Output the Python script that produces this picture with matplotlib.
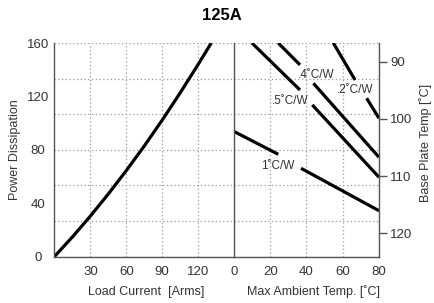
import numpy as np
import matplotlib
matplotlib.use("Agg")
import matplotlib.pyplot as plt

plt.rcParams['font.family'] = ['Liberation Sans', 'DejaVu Sans']

# left panel: power dissipation vs load current
load_current = [0, 15, 30, 45, 60, 75, 90, 105, 120, 131]
power = [0, 14.7, 30.3, 46.9, 64.4, 82.8, 102.2, 122.6, 143.9, 160]

# right panel: derating lines, each drawn as two pieces around its label
# (ambient temp, power) at start, label gap start, label gap end, end
res_labels = ['1˚C/W', '.5˚C/W', '.4˚C/W', '.2˚C/W']
amb_pts = [[0, 24.4, 37.0, 80],
           [9.9, 36.4, 43.2, 80],
           [24.4, 36.4, 43.8, 80],
           [54.8, 66.8, 73.2, 80]]
pow_pts = [[93.7, 76.6, 66.1, 34.3],
           [160, 124.8, 113.6, 59.4],
           [160, 143.6, 129.8, 74.4],
           [160, 132.3, 118.6, 103.6]]
label_amb = [24.4, 31.0, 45.6, 66.8]
label_pow = [68.1, 116.8, 136.0, 124.8]

left_xticks = [30, 60, 90, 120]
right_xticks = [0, 20, 40, 60, 80]
pow_ticks = [0, 40, 80, 120, 160]
base_ticks = [90, 100, 110, 120]

spine_c = '#555555'
text_c = '#333333'
grid_c = '#9a9a9a'

fig = plt.figure(figsize=(4.35, 3.03), dpi=100)
W, H = 435., 303.
x0, xm, x1 = 54.5, 234., 379.
ytop, ybot = 43., 256.5
ax1 = fig.add_axes([x0 / W, 1 - ybot / H, (xm - x0) / W, (ybot - ytop) / H])
ax2 = fig.add_axes([xm / W, 1 - ybot / H, (x1 - xm) / W, (ybot - ytop) / H], sharey=ax1)

ax1.plot(load_current, power, color='black', lw=2.3, solid_capstyle='butt')
ax1.set_xlim(0, 150)
ax1.set_ylim(0, 160)

for a, p in zip(amb_pts, pow_pts):
    ax2.plot(a[:2], p[:2], color='black', lw=2.3, solid_capstyle='butt')
    ax2.plot(a[2:], p[2:], color='black', lw=2.3, solid_capstyle='butt')
for lab, a, p in zip(res_labels, label_amb, label_pow):
    ax2.text(a, p, lab, fontsize=8.5, color=text_c, ha='center', va='center')
ax2.set_xlim(0, 80)

hgrid = np.linspace(0, 160, 7)
for ax, xt in ((ax1, left_xticks), (ax2, right_xticks)):
    ax.set_xticks(xt)
    ax.yaxis.remove_overlapping_locs = False
    ax.set_yticks(hgrid, minor=True)
    ax.grid(True, axis='x', which='major', color=grid_c, lw=0.9, ls=(0, (1, 2)))
    ax.grid(True, axis='y', which='minor', color=grid_c, lw=0.9, ls=(0, (1, 2)))
    ax.spines['top'].set_visible(False)
    for s in ax.spines.values():
        s.set_color(spine_c)
        s.set_linewidth(1.0)
    ax.tick_params(which='both', length=0, labelsize=9.5, labelcolor=text_c)
    ax.tick_params(axis='x', pad=7)

ax1.spines['right'].set_visible(False)
ax2.spines['right'].set_visible(False)
ax1.set_yticks(pow_ticks)
ax1.tick_params(axis='y', pad=12)
for t in ax1.get_yticklabels():
    t.set_ha('center')
ax2.tick_params(axis='y', labelleft=False)

# right axis: base plate temperature
ax3 = ax2.twinx()
ax3.set_ylim(124.1, 86.7)
ax3.set_yticks(base_ticks)
ax3.tick_params(axis='y', length=6, width=1, color=spine_c, labelsize=9.5,
                labelcolor=text_c, pad=2)
for s in ('top', 'left', 'bottom'):
    ax3.spines[s].set_visible(False)
ax3.spines['right'].set_color(spine_c)
ax3.spines['right'].set_linewidth(1.0)

ax1.set_ylabel('Power Dissipation', fontsize=9, color=text_c, va='center')
ax1.yaxis.set_label_coords(-0.22, 0.5)
ax1.set_xlabel('Load Current  [Arms]', fontsize=9, color=text_c, va='center')
ax1.xaxis.set_label_coords(0.511, -0.165)
ax2.set_xlabel('Max Ambient Temp. [˚C]', fontsize=9, color=text_c, va='center')
ax2.xaxis.set_label_coords(0.55, -0.165)
ax3.set_ylabel('Base Plate Temp [˚C]', fontsize=9, color=text_c, va='center')
ax3.yaxis.set_label_coords(1.324, 0.53)

fig.text(222 / W, 1 - 15 / H, '125A', fontsize=12, fontweight='bold',
         ha='center', va='center')

fig.savefig('out.png', dpi=100)
